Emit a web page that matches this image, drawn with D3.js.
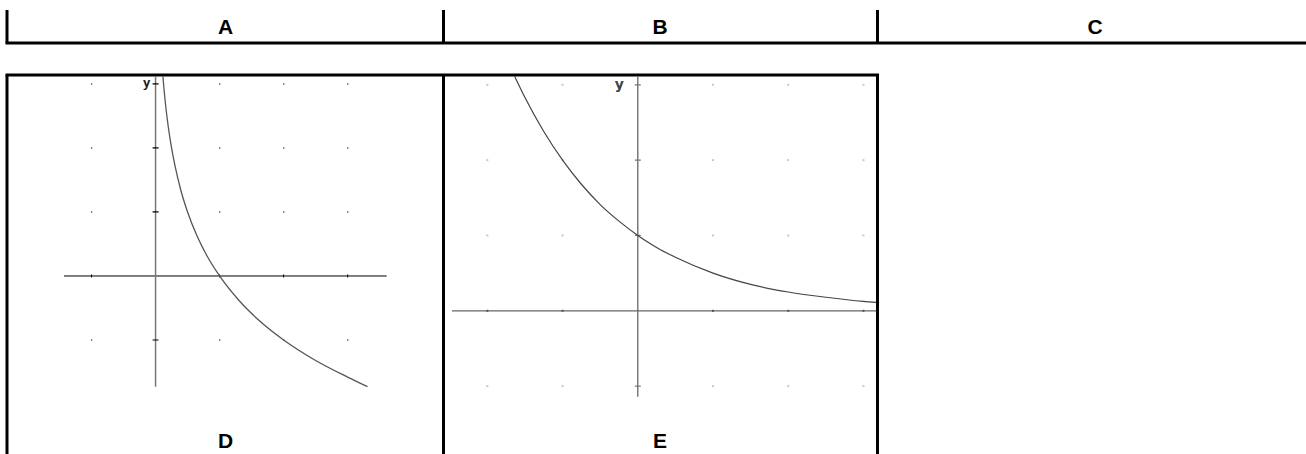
<!DOCTYPE html>
<html>
<head>
<meta charset="utf-8">
<script src="https://cdn.jsdelivr.net/npm/d3@7"></script>
<style>
  body { margin: 0; background: #fff; }
</style>
</head>
<body>
<div id="canvas"></div>
<script>
"use strict"

/* Panel letters */
let topLetters = ["A", "B", "C"];
let bottomLetters = ["D", "E"];

/* Graph D: points (x, y) */
let curveDx = [0.113, 0.13, 0.16, 0.2, 0.25, 0.3, 0.4, 0.5, 0.65, 0.8, 1, 1.3, 1.6, 2, 2.5, 3, 3.31];
let curveDy = [3.14, 2.94, 2.64, 2.32, 2.0, 1.74, 1.32, 1.0, 0.62, 0.32, 0, -0.38, -0.68, -1.0, -1.32, -1.58, -1.73];

/* Graph E: points (x, y) */
let curveEx = [-1.65, -1.5, -1.25, -1, -0.75, -0.5, -0.25, 0, 0.25, 0.5, 1, 1.5, 2, 2.5, 3, 3.2];
let curveEy = [3.14, 2.83, 2.38, 2.0, 1.68, 1.41, 1.19, 1.0, 0.84, 0.71, 0.5, 0.35, 0.25, 0.18, 0.125, 0.11];

/* Grid positions (units) */
let gridDx = [-1, 1, 2, 3];
let gridDy = [3, 2, 1, -1];
let gridEx = [-2, -1, 1, 2, 3];
let gridEy = [3, 2, 1, -1];

/* Drawing config */
let svgWidth = 1306;
let svgHeight = 454;
let col = [7, 443.5, 877.5];

let svg = d3.select("#canvas")
    .append("svg")
    .attr("width", svgWidth)
    .attr("height", svgHeight);

/* Top header row */
let frame = svg.append("g")
    .attr("stroke", "black")
    .attr("stroke-width", 3);

frame.append("line")
    .attr("x1", 5.5).attr("x2", svgWidth)
    .attr("y1", 43).attr("y2", 43);

col.forEach(function (x) {
    frame.append("line")
        .attr("x1", x).attr("x2", x)
        .attr("y1", 10).attr("y2", 43);
});

/* Bottom box */
frame.append("line")
    .attr("x1", 5.5).attr("x2", 879)
    .attr("y1", 75).attr("y2", 75);

col.forEach(function (x) {
    frame.append("line")
        .attr("x1", x).attr("x2", x)
        .attr("y1", 75).attr("y2", svgHeight);
});

let letterX = [225.5, 660, 1095];
topLetters.forEach(function (t, i) {
    svg.append("text")
        .attr("x", letterX[i])
        .attr("y", 33.5)
        .attr("text-anchor", "middle")
        .attr("font-family", "Liberation Sans, Arial, sans-serif")
        .attr("font-weight", "bold")
        .attr("font-size", 21)
        .text(t);
});
bottomLetters.forEach(function (t, i) {
    svg.append("text")
        .attr("x", letterX[i])
        .attr("y", 447.5)
        .attr("text-anchor", "middle")
        .attr("font-family", "Liberation Sans, Arial, sans-serif")
        .attr("font-weight", "bold")
        .attr("font-size", 21)
        .text(t);
});

/* Clip regions for each graph */
let defs = svg.append("defs");
defs.append("clipPath").attr("id", "clipD")
    .append("rect").attr("x", 8.5).attr("y", 76.5).attr("width", 433.5).attr("height", 380);
defs.append("clipPath").attr("id", "clipE")
    .append("rect").attr("x", 445).attr("y", 76.5).attr("width", 431).attr("height", 380);

/**** Graph D ****/
let xD = d3.scaleLinear()
    .domain([-1.43, 3.61])
    .range([64, 386.7]);
let yD = d3.scaleLinear()
    .domain([-1.73, 3.14])
    .range([386.7, 75]);

let gD = svg.append("g").attr("clip-path", "url(#clipD)");

gridDy.forEach(function (gy) {
    gridDx.forEach(function (gx) {
        gD.append("rect")
            .attr("x", xD(gx) - 0.5)
            .attr("y", yD(gy) - 0.5)
            .attr("width", 1.2)
            .attr("height", 1.2)
            .attr("fill", "#222");
    });
});

/* x axis */
gD.append("line")
    .attr("x1", xD(-1.43)).attr("x2", xD(3.61))
    .attr("y1", yD(0)).attr("y2", yD(0))
    .attr("stroke", "black").attr("stroke-width", 1);
gridDx.forEach(function (gx) {
    gD.append("line")
        .attr("x1", xD(gx)).attr("x2", xD(gx))
        .attr("y1", yD(0) - 1.5).attr("y2", yD(0) + 1.5)
        .attr("stroke", "black");
});

/* y axis */
gD.append("line")
    .attr("x1", xD(0)).attr("x2", xD(0))
    .attr("y1", yD(3.14)).attr("y2", yD(-1.73))
    .attr("stroke", "#777").attr("stroke-width", 1.5);
gridDy.forEach(function (gy) {
    gD.append("line")
        .attr("x1", xD(0) - 3).attr("x2", xD(0) + 3)
        .attr("y1", yD(gy)).attr("y2", yD(gy))
        .attr("stroke", "black").attr("stroke-width", 1.2);
});

gD.append("text")
    .attr("x", xD(0) - 5)
    .attr("y", yD(3) + 3.5)
    .attr("text-anchor", "end")
    .attr("font-family", "DejaVu Sans Mono, monospace")
    .attr("font-weight", "bold")
    .attr("font-size", 13)
    .attr("fill", "#222")
    .text("y");

let lineD = d3.line()
    .x(function (d) { return xD(d[0]); })
    .y(function (d) { return yD(d[1]); })
    .curve(d3.curveMonotoneX);

gD.append("path")
    .datum(d3.zip(curveDx, curveDy))
    .attr("d", lineD)
    .attr("fill", "none")
    .attr("stroke", "#555")
    .attr("stroke-width", 1.3);

/**** Graph E ****/
let xE = d3.scaleLinear()
    .domain([-2.47, 3.18])
    .range([452, 877]);
let yE = d3.scaleLinear()
    .domain([-1.14, 3.13])
    .range([396.7, 75]);

let gE = svg.append("g").attr("clip-path", "url(#clipE)");

gridEy.forEach(function (gy) {
    gridEx.forEach(function (gx) {
        gE.append("rect")
            .attr("x", xE(gx) - 1)
            .attr("y", yE(gy) - 1)
            .attr("width", 2)
            .attr("height", 2)
            .attr("fill", "#c8c8c8");
    });
});

/* x axis */
gE.append("line")
    .attr("x1", xE(-2.47)).attr("x2", xE(3.18))
    .attr("y1", yE(0)).attr("y2", yE(0))
    .attr("stroke", "#666").attr("stroke-width", 1.3);
gridEx.forEach(function (gx) {
    gE.append("rect")
        .attr("x", xE(gx) - 1)
        .attr("y", yE(0) - 1)
        .attr("width", 2)
        .attr("height", 2)
        .attr("fill", "#555");
});

/* y axis */
gE.append("line")
    .attr("x1", xE(0)).attr("x2", xE(0))
    .attr("y1", yE(3.13)).attr("y2", yE(-1.14))
    .attr("stroke", "#666").attr("stroke-width", 1.3);
gridEy.forEach(function (gy) {
    gE.append("line")
        .attr("x1", xE(0) - 3).attr("x2", xE(0) + 3)
        .attr("y1", yE(gy)).attr("y2", yE(gy))
        .attr("stroke", "#777").attr("stroke-width", 1.2);
});

gE.append("text")
    .attr("x", xE(0) - 14)
    .attr("y", yE(3) + 4.5)
    .attr("text-anchor", "end")
    .attr("font-family", "DejaVu Sans, sans-serif")
    .attr("font-weight", "bold")
    .attr("font-size", 14)
    .attr("fill", "#444")
    .text("y");

let lineE = d3.line()
    .x(function (d) { return xE(d[0]); })
    .y(function (d) { return yE(d[1]); })
    .curve(d3.curveMonotoneX);

gE.append("path")
    .datum(d3.zip(curveEx, curveEy))
    .attr("d", lineE)
    .attr("fill", "none")
    .attr("stroke", "#444")
    .attr("stroke-width", 1.2);
</script>
</body>
</html>
